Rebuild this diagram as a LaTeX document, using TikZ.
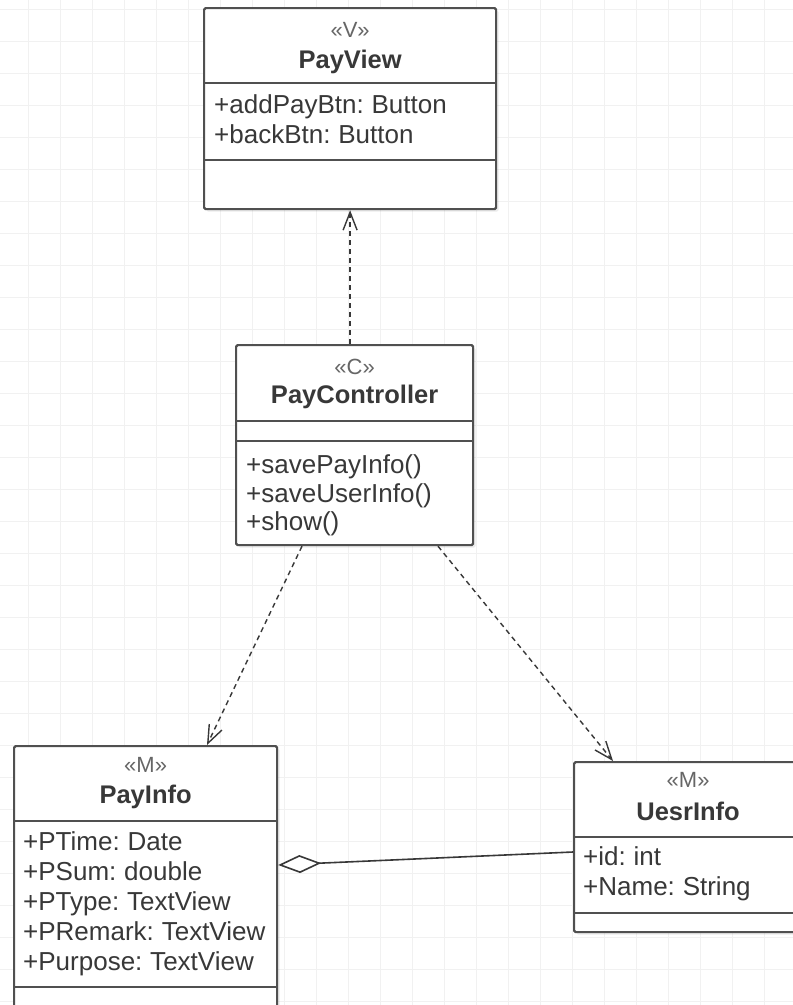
\documentclass[tikz,border=0pt]{standalone}
\usepackage{fontspec}
\setmainfont{Liberation Sans}
\newfontfamily\attrfont{Liberation Sans}[WordSpace=0.75]
\usetikzlibrary{arrows.meta,calc,shadows}
\definecolor{gridc}{HTML}{F1F1F1}
\definecolor{linec}{HTML}{505050}
\definecolor{txtc}{HTML}{383838}
\definecolor{stc}{HTML}{666666}
\begin{document}
\begin{tikzpicture}[x=1pt,y=-1pt,
  umlbox/.style={draw=linec, line width=2.2pt, fill=white, rounded corners=1.5pt, inner sep=0pt, anchor=north west,
    drop shadow={shadow xshift=2.5pt, shadow yshift=-2.5pt, opacity=0.15}},
  sep/.style={draw=linec, line width=2.2pt},
  stereo/.style={font=\fontsize{22}{26}\selectfont, text=stc, anchor=base, inner sep=0pt},
  cname/.style={font=\fontsize{25.5}{30}\selectfont\bfseries, text=txtc, anchor=base, inner sep=0pt},
  attr/.style={font=\attrfont\fontsize{26}{30}\selectfont, text=txtc, anchor=base west, inner sep=0pt},
  dep/.style={draw=txtc, line width=1.4pt, dash pattern=on 5pt off 4pt,
    -{Straight Barb[length=18pt,width=14pt,line width=1.4pt]}},
  agg/.style={draw=txtc, line width=1.6pt, -{Diamond[open,length=43pt,width=18pt,line width=1.6pt]}},
  gridline/.style={draw=gridc, line width=1pt}
]
\useasboundingbox (0,0) rectangle (793,1005);
\clip (0,0) rectangle (793,1005);
\fill[white] (0,0) rectangle (793,1005);
\foreach \x in {-4,28,...,800} \draw[gridline] (\x,0) -- (\x,1005);
\foreach \y in {9,41,...,1010} \draw[gridline] (0,\y) -- (793,\y);

% PayView
\node[umlbox, minimum width=292pt, minimum height=201pt] (pv) at (203,7) {};
\draw[sep] ($(pv.north west)+(0,76)$) -- ($(pv.north east)+(0,76)$);
\draw[sep] ($(pv.north west)+(0,153)$) -- ($(pv.north east)+(0,153)$);
\node[stereo] (pvst) at ($(pv.north)+(0,30)$) {«V»};
\node[cname] (pvn) at ($(pv.north)+(0,61)$) {PayView};
\node[attr] (pva1) at ($(pv.north west)+(11,106)$) {+addPayBtn: Button};
\node[attr] (pva2) at ($(pv.north west)+(11,136)$) {+backBtn: Button};

% PayController
\node[umlbox, minimum width=237pt, minimum height=200pt] (pc) at (235,344) {};
\draw[sep] ($(pc.north west)+(0,77)$) -- ($(pc.north east)+(0,77)$);
\draw[sep] ($(pc.north west)+(0,97)$) -- ($(pc.north east)+(0,97)$);
\node[stereo] (pcst) at ($(pc.north)+(0,30)$) {«C»};
\node[cname] (pcn) at ($(pc.north)+(0,59)$) {PayController};
\node[attr] (pcm1) at ($(pc.north west)+(11,129)$) {+savePayInfo()};
\node[attr] (pcm2) at ($(pc.north west)+(11,158)$) {+saveUserInfo()};
\node[attr] (pcm3) at ($(pc.north west)+(11,186)$) {+show()};

% PayInfo
\node[umlbox, minimum width=263pt, minimum height=270pt] (pi) at (13,745) {};
\draw[sep] ($(pi.north west)+(0,76)$) -- ($(pi.north east)+(0,76)$);
\draw[sep] ($(pi.north west)+(0,242)$) -- ($(pi.north east)+(0,242)$);
\node[stereo] (pist) at ($(pi.north)+(0,27)$) {«M»};
\node[cname] (pin) at ($(pi.north)+(0,58)$) {PayInfo};
\node[attr] (pia1) at ($(pi.north west)+(10,105)$) {+PTime: Date};
\node[attr] (pia2) at ($(pi.north west)+(10,135)$) {+PSum: double};
\node[attr] (pia3) at ($(pi.north west)+(10,165)$) {+PType: TextView};
\node[attr] (pia4) at ($(pi.north west)+(10,195)$) {+PRemark: TextView};
\node[attr] (pia5) at ($(pi.north west)+(10,225)$) {+Purpose: TextView};

% UesrInfo
\node[umlbox, minimum width=228pt, minimum height=170pt] (ui) at (573,761) {};
\draw[sep] ($(ui.north west)+(0,76)$) -- ($(ui.north east)+(0,76)$);
\draw[sep] ($(ui.north west)+(0,152)$) -- ($(ui.north east)+(0,152)$);
\node[stereo] (uist) at ($(ui.north)+(0,26)$) {«M»};
\node[cname] (uin) at ($(ui.north)+(0,59)$) {UesrInfo};
\node[attr] (uia1) at ($(ui.north west)+(10,104)$) {+id: int};
\node[attr] (uia2) at ($(ui.north west)+(10,134)$) {+Name: String};

% connectors
\draw[dep] (pv.south |- pc.north) -- (pv.south);
\draw[dep] ($(pc.south west)+(67,0)$) -- ($(pi.north west)+(194,0)$);
\draw[dep] ($(pc.south west)+(203,0)$) -- ($(ui.north west)+(40,0)$);
\draw[agg] ($(ui.north west)+(0,91)$) -- ($(pi.north east)+(0,120)$);
\end{tikzpicture}
\end{document}
